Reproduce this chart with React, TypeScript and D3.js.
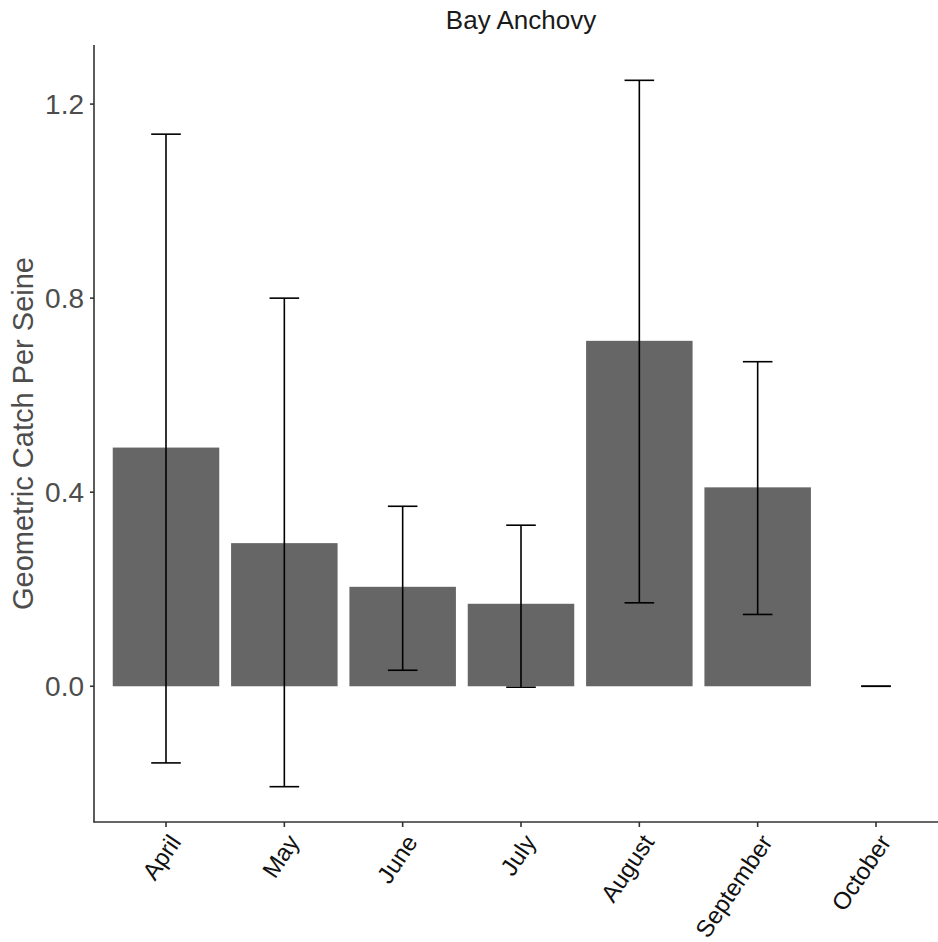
import React from "react";
import * as d3 from "d3";

const months = ["April", "May", "June", "July", "August", "September", "October"];
const means = [0.492, 0.295, 0.205, 0.170, 0.712, 0.410, 0.0];
const lower = [-0.158, -0.207, 0.033, -0.002, 0.172, 0.148, 0.0];
const upper = [1.138, 0.800, 0.371, 0.332, 1.249, 0.669, 0.0];
const yTicks = [0.0, 0.4, 0.8, 1.2];

const W = 938;
const H = 942;
const left = 95;
const right = 947;
const top = 45;
const bottom = 822;

export default function App() {
  const step = (right - left) / (months.length - 1 + 1.2);
  const x = d3
    .scalePoint<string>()
    .domain(months)
    .range([left + step * 0.6, right - step * 0.6]);
  const xc = (m: string) => x(m) as number;
  const barW = step * 0.9;
  const capW = step * 0.25;
  const y = d3.scaleLinear().domain([-0.2798, 1.3218]).range([bottom, top]);
  const font = "'Liberation Sans', Arial, sans-serif";
  return (
    <svg width={W} height={H} style={{ position: "absolute", left: 0, top: 0, background: "#fff" }}>
      <text x={(left + right) / 2} y={29} textAnchor="middle" fontFamily={font} fontSize={26} fill="#1a1a1a">
        Bay Anchovy
      </text>
      {months.map((m, i) => (
        <rect key={m} x={xc(m) - barW / 2} y={y(Math.max(0, means[i]))} width={barW}
          height={Math.abs(y(means[i]) - y(0))} fill="#666666" />
      ))}
      {months.map((m, i) => (
        <g key={"e" + m} stroke="#000" strokeWidth={1.6} fill="none">
          <line x1={xc(m)} x2={xc(m)} y1={y(lower[i])} y2={y(upper[i])} />
          <line x1={xc(m) - capW / 2} x2={xc(m) + capW / 2} y1={y(upper[i])} y2={y(upper[i])} />
          <line x1={xc(m) - capW / 2} x2={xc(m) + capW / 2} y1={y(lower[i])} y2={y(lower[i])} />
        </g>
      ))}
      <line x1={left - 1} x2={left - 1} y1={top} y2={bottom + 0.5} stroke="#333" strokeWidth={1.6} />
      <line x1={left - 1.5} x2={right} y1={bottom} y2={bottom} stroke="#333" strokeWidth={1.6} />
      {yTicks.map((t) => (
        <g key={t}>
          <line x1={left - 5} x2={left - 1} y1={y(t)} y2={y(t)} stroke="#333" strokeWidth={1.6} />
          <text x={left - 11} y={y(t)} dy="0.36em" textAnchor="end" fontFamily={font} fontSize={28} fill="#4d4d4d">
            {t.toFixed(1)}
          </text>
        </g>
      ))}
      {months.map((m) => (
        <g key={"t" + m}>
          <line x1={xc(m)} x2={xc(m)} y1={bottom} y2={bottom + 5} stroke="#333" strokeWidth={1.6} />
          <text transform={`translate(${xc(m) + 1},${bottom + 10}) rotate(-56)`} textAnchor="end"
            dy="0.75em" fontFamily={font} fontSize={24} fill="#111">
            {m}
          </text>
        </g>
      ))}
      <text transform={`translate(33,${(top + bottom) / 2}) rotate(-90)`} textAnchor="middle"
        fontFamily={font} fontSize={29} fill="#4d4d4d">
        Geometric Catch Per Seine
      </text>
    </svg>
  );
}
